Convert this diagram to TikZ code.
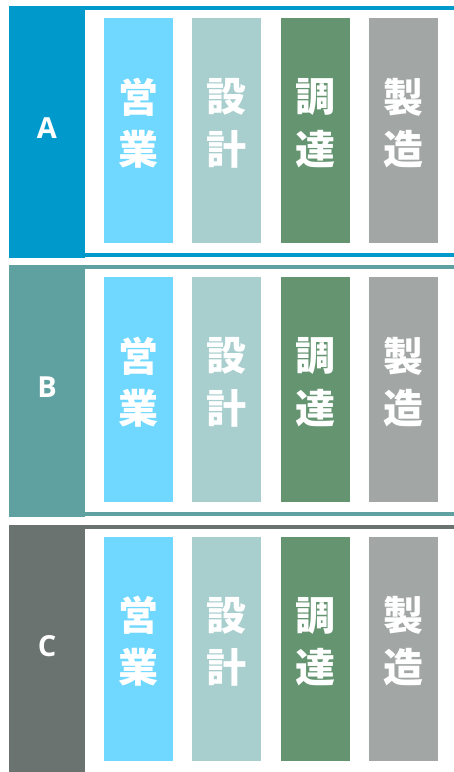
\documentclass[tikz,border=0pt]{standalone}
\usepackage{fontspec}
\setmainfont{Open Sans}
\newfontfamily\cjk{Noto Sans CJK JP}
\definecolor{secA}{RGB}{0,153,204}
\definecolor{secB}{RGB}{95,160,160}
\definecolor{secC}{RGB}{107,115,113}
\definecolor{c1}{RGB}{112,216,255}
\definecolor{c2}{RGB}{168,206,206}
\definecolor{c3}{RGB}{100,149,112}
\definecolor{c4}{RGB}{162,167,166}
\tikzset{
  colbox/.style={draw=none, inner sep=0pt, minimum width=69pt, minimum height=224.7pt},
  secbox/.style={draw=none, inner sep=0pt, minimum width=76pt, anchor=north west},
  chtxt/.style={inner sep=0pt, text=white, font=\cjk\bfseries\fontsize{40}{40}\selectfont},
  labtxt/.style={inner sep=0pt, text=white, anchor=base, font=\bfseries\fontsize{29}{29}\selectfont},
}
\begin{document}
\begin{tikzpicture}[x=1pt,y=-1pt]
\clip (0,0) rectangle (454,772);
\fill[white] (0,0) rectangle (454,772);
\foreach \s/\lab/\sc/\h [count=\i] in {0/A/secA/251.5, 259.25/B/secB/251.5, 518.5/C/secC/260}{
  \node[secbox, fill=\sc, minimum height=\h pt] (sec\i) at (9,\s+6) {};
  \fill[\sc] (85,\s+6) rectangle (454,\s+10);
  \ifnum\i<3 \fill[\sc] (85,\s+253) rectangle (454,\s+257); \fi
  \node[labtxt] (lab\i) at (47,\s+138.3) {\lab};
  \foreach \ta/\tb [count=\j] in {営/業, 設/計, 調/達, 製/造}{
    \pgfmathsetmacro{\xc}{138.5+88.33*(\j-1)}
    \node[colbox, fill=c\j] (col\i\j) at (\xc,\s+130.35) {};
    \node[chtxt] (ta\i\j) at (\xc,\s+97) {\ta};
    \node[chtxt] (tb\i\j) at (\xc,\s+149) {\tb};
  }
}
\end{tikzpicture}
\end{document}
